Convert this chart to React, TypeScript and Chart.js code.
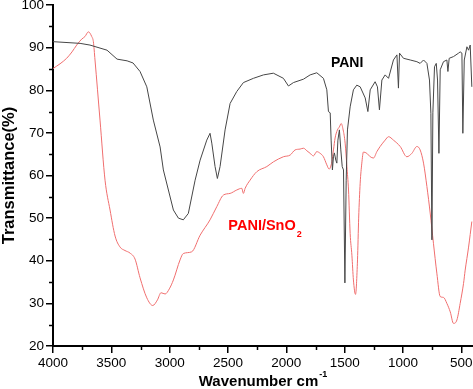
import React, { useEffect, useRef } from "react";
import { Chart, registerables } from "chart.js";

Chart.register(...registerables);

// ---- Data ----
const PANI_WN = [4000, 3768, 3683, 3537, 3451, 3365, 3314, 3254, 3196, 3140, 3082, 3054, 2968, 2925, 2883, 2840, 2782, 2739, 2682, 2654, 2639, 2611, 2591, 2568, 2525, 2482, 2425, 2368, 2282, 2196, 2111, 2025, 1982, 1939, 1853, 1796, 1739, 1682, 1653, 1639, 1624, 1616, 1605, 1596, 1588, 1576, 1567, 1558, 1545, 1533, 1521, 1510, 1498, 1487, 1476, 1453, 1425, 1396, 1367, 1324, 1301, 1281, 1239, 1219, 1202, 1181, 1153, 1124, 1082, 1052, 1039, 1030, 996, 938, 881, 853, 824, 795, 773, 761, 752, 744, 730, 715, 704, 692, 681, 653, 624, 615, 604, 567, 524, 510, 495, 487, 475, 452, 438, 424, 410];
const PANI_T = [91.4, 91.0, 90.6, 89.4, 87.3, 86.9, 86.4, 84.4, 80.8, 73.0, 66.7, 61.3, 51.9, 50.0, 49.6, 51.1, 58.9, 63.6, 68.3, 69.9, 67.6, 62.1, 59.3, 62.1, 70.7, 76.9, 79.7, 81.8, 82.8, 83.6, 84.0, 82.8, 81.0, 81.8, 82.6, 83.6, 84.1, 82.8, 80.1, 75.0, 74.7, 68.3, 61.3, 64.4, 65.3, 63.6, 62.9, 68.3, 70.7, 66.0, 62.1, 61.3, 34.8, 58.9, 70.7, 76.1, 80.1, 81.2, 80.8, 78.2, 75.0, 80.1, 82.0, 80.8, 75.4, 82.4, 83.6, 82.8, 87.1, 88.3, 80.5, 88.7, 87.5, 87.1, 86.7, 86.3, 87.1, 86.3, 82.4, 74.6, 44.9, 74.7, 85.5, 86.3, 82.4, 65.2, 84.8, 86.7, 87.1, 84.4, 87.5, 87.9, 88.7, 89.0, 88.7, 69.9, 87.1, 90.2, 89.4, 90.6, 80.8];

const COMP_WN = [4000, 3940, 3883, 3837, 3797, 3754, 3726, 3697, 3668, 3654, 3640, 3597, 3554, 3511, 3468, 3425, 3383, 3340, 3297, 3254, 3196, 3145, 3105, 3074, 3039, 3003, 2968, 2911, 2883, 2811, 2739, 2654, 2596, 2540, 2482, 2425, 2382, 2368, 2353, 2311, 2253, 2167, 2111, 2025, 1967, 1925, 1882, 1853, 1824, 1796, 1768, 1739, 1710, 1682, 1653, 1633, 1610, 1596, 1582, 1562, 1545, 1530, 1513, 1496, 1481, 1467, 1453, 1438, 1425, 1407, 1390, 1380, 1367, 1353, 1339, 1310, 1281, 1253, 1224, 1196, 1153, 1124, 1082, 1024, 967, 924, 881, 853, 824, 795, 767, 739, 710, 681, 653, 624, 595, 567, 538, 510, 481, 467, 438, 410];
const COMP_T = [85.1, 86.2, 87.5, 89.0, 90.6, 92.0, 92.6, 93.7, 92.6, 91.4, 87.1, 73.0, 58.9, 51.9, 45.8, 43.2, 42.4, 41.8, 40.4, 36.0, 31.3, 29.5, 30.8, 32.5, 32.2, 33.4, 35.5, 40.2, 41.7, 42.1, 46.0, 49.6, 52.7, 55.4, 55.8, 56.6, 57.0, 55.8, 57.0, 58.9, 60.9, 62.1, 63.2, 64.4, 64.8, 66.0, 66.2, 66.4, 65.8, 65.2, 64.6, 65.6, 65.2, 64.4, 62.5, 61.5, 63.2, 66.0, 68.8, 70.7, 71.4, 72.2, 70.7, 67.6, 62.1, 56.6, 46.4, 41.3, 35.5, 32.1, 40.2, 50.0, 58.2, 62.9, 65.5, 65.2, 64.4, 64.1, 65.6, 66.8, 68.3, 69.1, 68.3, 66.8, 64.4, 65.2, 66.8, 66.0, 62.9, 57.4, 51.2, 44.1, 37.1, 31.6, 31.4, 30.0, 28.0, 25.3, 26.1, 30.0, 34.7, 37.8, 43.2, 49.2];

const X_TICKS = [4000, 3500, 3000, 2500, 2000, 1500, 1000, 500];
const X_MINOR = [3750, 3250, 2750, 2250, 1750, 1250, 750];
const Y_MINOR = [25, 35, 45, 55, 65, 75, 85, 95];

const X_TITLE = "Wavenumber cm";
const X_TITLE_SUP = "-1";
const Y_TITLE = "Transmittance(%)";
const LABEL_PANI = { text: "PANI", x: 1479, y: 86.4 };
const LABEL_COMP = { text: "PANI/SnO", sub: "2", x: 2497, y: 47.1 };

const FONT = "'Liberation Sans', Arial, sans-serif";

const extrasPlugin = {
  id: "extras",
  afterDraw(chart: any) {
    const ctx = chart.ctx;
    const xs = chart.scales.x;
    const ys = chart.scales.y;
    const area = chart.chartArea;
    ctx.save();
    ctx.strokeStyle = "#000";
    ctx.lineWidth = 1.5;
    for (const v of X_MINOR) {
      const px = Math.round(xs.getPixelForValue(v)) + 0.5;
      ctx.beginPath();
      ctx.moveTo(px, area.bottom);
      ctx.lineTo(px, area.bottom + 4);
      ctx.stroke();
    }
    for (const v of Y_MINOR) {
      const py = Math.round(ys.getPixelForValue(v)) + 0.5;
      ctx.beginPath();
      ctx.moveTo(area.left - 4, py);
      ctx.lineTo(area.left, py);
      ctx.stroke();
    }
    // x title with superscript
    ctx.fillStyle = "#000";
    ctx.textBaseline = "alphabetic";
    ctx.font = `bold 15px ${FONT}`;
    const w1 = ctx.measureText(X_TITLE).width;
    ctx.font = `bold 9px ${FONT}`;
    const w2 = ctx.measureText(X_TITLE_SUP).width;
    const cx = (area.left + area.right) / 2;
    const startX = cx - (w1 + w2 + 1) / 2;
    ctx.font = `bold 15px ${FONT}`;
    ctx.textAlign = "left";
    ctx.fillText(X_TITLE, startX, 386);
    ctx.font = `bold 9px ${FONT}`;
    ctx.fillText(X_TITLE_SUP, startX + w1 + 1, 377);

    // annotations
    ctx.font = `bold 14px ${FONT}`;
    ctx.textAlign = "center";
    ctx.textBaseline = "middle";
    ctx.fillStyle = "#000";
    ctx.fillText(LABEL_PANI.text, xs.getPixelForValue(LABEL_PANI.x), ys.getPixelForValue(LABEL_PANI.y));

    ctx.fillStyle = "#ff0000";
    ctx.textAlign = "left";
    ctx.textBaseline = "alphabetic";
    ctx.font = `bold 14.5px ${FONT}`;
    const lx = xs.getPixelForValue(LABEL_COMP.x);
    const ly = ys.getPixelForValue(LABEL_COMP.y);
    ctx.fillText(LABEL_COMP.text, lx, ly);
    const wc = ctx.measureText(LABEL_COMP.text).width;
    ctx.font = `bold 9px ${FONT}`;
    ctx.fillText(LABEL_COMP.sub, lx + wc + 1, ly + 7);
    ctx.restore();
  },
};

export default function App() {
  const ref = useRef<HTMLCanvasElement>(null);
  useEffect(() => {
    document.body.style.margin = "0";
    const canvas = ref.current;
    if (!canvas) return;
    const chart = new Chart(canvas, {
      type: "line",
      data: {
        datasets: [
          {
            label: "PANI",
            data: PANI_WN.map((x, i) => ({ x, y: PANI_T[i] })),
            borderColor: "rgb(70,70,70)",
            borderWidth: 1,
            pointRadius: 0,
            tension: 0,
          },
          {
            label: "PANI/SnO2",
            data: COMP_WN.map((x, i) => ({ x, y: COMP_T[i] })),
            borderColor: "rgb(240,110,110)",
            borderWidth: 1,
            pointRadius: 0,
            cubicInterpolationMode: "monotone",
          },
        ],
      },
      options: {
        responsive: false,
        animation: false,
        devicePixelRatio: 1,
        layout: { padding: { top: 0, right: 0, left: 0, bottom: 0 } },
        plugins: { legend: { display: false }, tooltip: { enabled: false } },
        scales: {
          x: {
            type: "linear",
            reverse: true,
            min: 400,
            max: 4000,
            afterBuildTicks: (scale: any) => {
              scale.ticks = X_TICKS.map((v) => ({ value: v }));
            },
            afterFit: (scale: any) => {
              scale.height = 43;
              scale.paddingLeft = 0;
              scale.paddingRight = 0;
            },
            grid: {
              drawOnChartArea: false,
              drawTicks: true,
              tickLength: 7,
              color: "#000",
              lineWidth: 1.5,
            },
            border: { display: true, color: "#000", width: 2 },
            ticks: {
              autoSkip: false,
              maxRotation: 0,
              padding: 2,
              color: "#000",
              font: { family: FONT, size: 13.5 },
              callback: (v: any) => String(v),
            },
            title: { display: false },
          },
          y: {
            type: "linear",
            min: 20,
            max: 100,
            afterFit: (scale: any) => {
              scale.width = 53;
              scale.paddingTop = 5;
              scale.paddingBottom = 0;
            },
            grid: {
              drawOnChartArea: false,
              drawTicks: true,
              tickLength: 7,
              color: "#000",
              lineWidth: 1.5,
            },
            border: { display: true, color: "#000", width: 2 },
            ticks: {
              stepSize: 10,
              padding: 2,
              color: "#000",
              font: { family: FONT, size: 13.5 },
            },
            title: {
              display: true,
              text: Y_TITLE,
              color: "#000",
              font: { family: FONT, size: 16.5, weight: "bold" },
              padding: { top: 0, bottom: 0 },
            },
          },
        },
      },
      plugins: [extrasPlugin],
    });
    return () => chart.destroy();
  }, []);
  return <canvas ref={ref} width={473} height={389} style={{ display: "block" }} />;
}
